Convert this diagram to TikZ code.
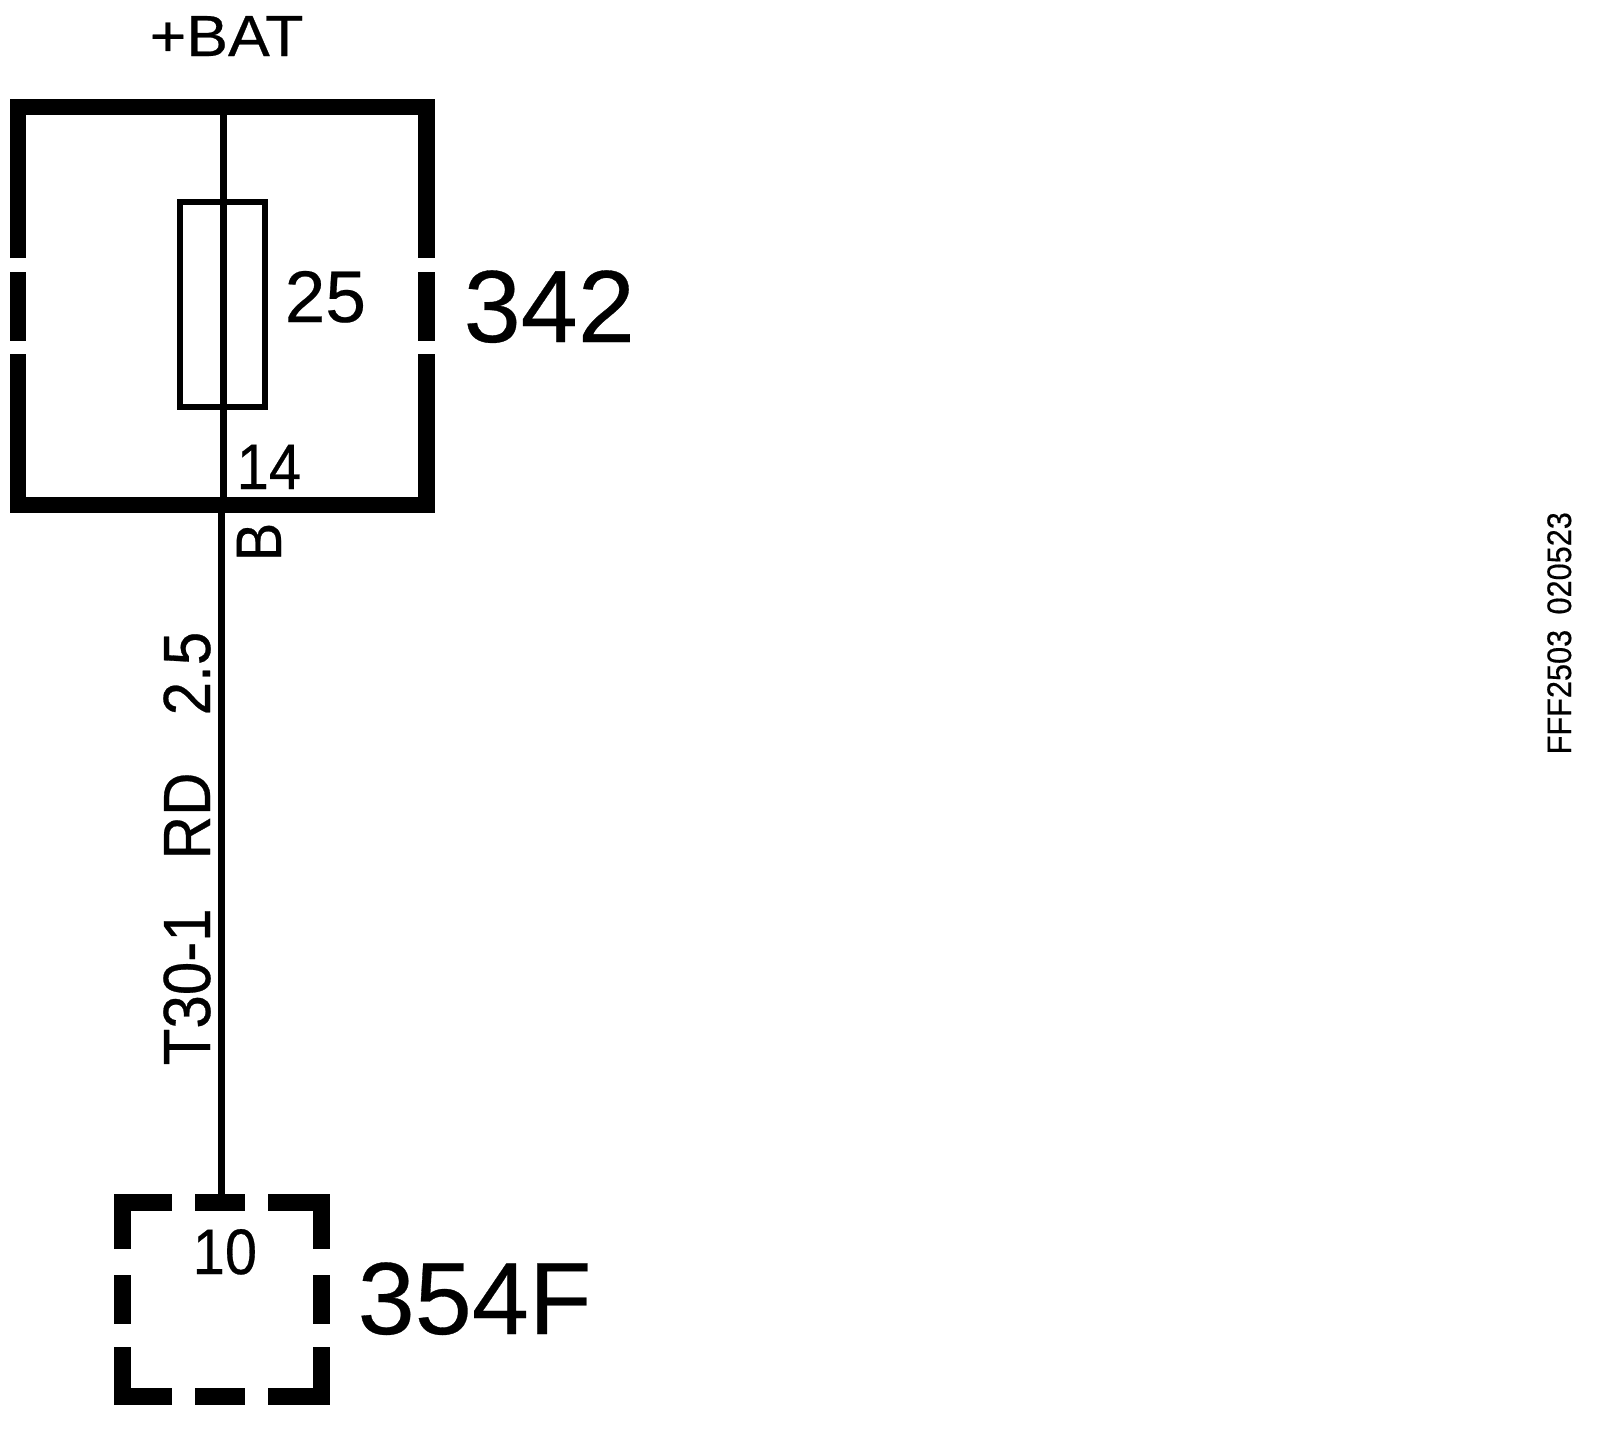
\documentclass[tikz,border=0pt]{standalone}
\usepackage{fontspec}
\setmainfont[FakeBold=0.3]{Liberation Sans}
\newfontfamily\narrowfont[FakeStretch=0.9,FakeBold=0.4]{Liberation Sans}
\newfontfamily\broadfont[FakeStretch=1.08,FakeBold=0.4]{Liberation Sans}
\tikzset{
	% ---- default
	every node/.style={inner sep=0pt, anchor=base west},
	% ---- custom
	housing/.style={line width=1.65mm, line join=miter},
	plug/.style={line width=1.7mm, line join=miter},
	wire/.style={line width=0.7mm},
	fuse/.style={line width=0.6mm},
	pin label/.style={font=\narrowfont\fontsize{18.3}{20}\selectfont},
	wire label/.style={font=\narrowfont\fontsize{19}{21}\selectfont, rotate=90},
	part label/.style={font=\fontsize{29.2}{34}\selectfont},
}
\begin{document}
\begin{tikzpicture}

	\useasboundingbox (0,0) rectangle (16,-14.46);

% coordinates %{{{2

	\coordinate (WT) at (2.235,-1.15);
	\coordinate (WM) at (2.235,-5.05);
	\coordinate (WN) at (2.215,-5.05);
	\coordinate (WB) at (2.215,-12.02);

% housing 342 %{{{2

	\draw[housing] (0.18,-2.58) -- (0.18,-1.07) -- (4.265,-1.07) -- (4.265,-2.58);
	\draw[housing] (0.18,-2.72) -- (0.18,-3.41);
	\draw[housing] (4.265,-2.72) -- (4.265,-3.41);
	\draw[housing] (0.18,-3.54) -- (0.18,-5.05) -- (4.265,-5.05) -- (4.265,-3.54);

% fuse %{{{2

	\draw[fuse] (1.795,-2.02) rectangle (2.65,-4.07);

% segments %{{{2

	\draw[wire] (WT) -- (WM);
	\draw[wire] (WN) -- (WB);

% plug 354F %{{{2

	\draw[plug] (1.225,-12.49) -- (1.225,-12.02) -- (1.72,-12.02);
	\draw[plug] (1.95,-12.02) -- (2.45,-12.02);
	\draw[plug] (2.68,-12.02) -- (3.21,-12.02) -- (3.21,-12.49);
	\draw[plug] (1.225,-12.75) -- (1.225,-13.24);
	\draw[plug] (3.21,-12.75) -- (3.21,-13.24);
	\draw[plug] (1.225,-13.47) -- (1.225,-13.96) -- (1.72,-13.96);
	\draw[plug] (1.95,-13.96) -- (2.45,-13.96);
	\draw[plug] (2.68,-13.96) -- (3.21,-13.96) -- (3.21,-13.47);

% labels %{{{2

	\node[font=\broadfont\fontsize{16.5}{18}\selectfont] (bat) at (1.49,-0.56) {+BAT};
	\node[part label] (n342) at (4.63,-3.42) {342};
	\node[font=\fontsize{20.8}{24}\selectfont] (n25) at (2.84,-3.22) {25};
	\node[pin label] (n14) at (2.36,-4.89) {14};
	\node[pin label, rotate=90] (nB) at (2.81,-5.62) {B};
	\node[wire label] (n25w) at (2.10,-7.16) {2.5};
	\node[wire label] (nRD) at (2.10,-8.60) {RD};
	\node[wire label] (nT30) at (2.10,-10.66) {T30-1};
	\node[pin label] (n10) at (1.92,-12.74) {10};
	\node[part label] (n354) at (3.57,-13.34) {354F};
	\node[font=\narrowfont\fontsize{9.7}{11}\selectfont, rotate=90] (nFFF) at (15.71,-7.55) {FFF2503\hspace{0.45em}020523};

% closing %{{{2

\end{tikzpicture}
\end{document}
